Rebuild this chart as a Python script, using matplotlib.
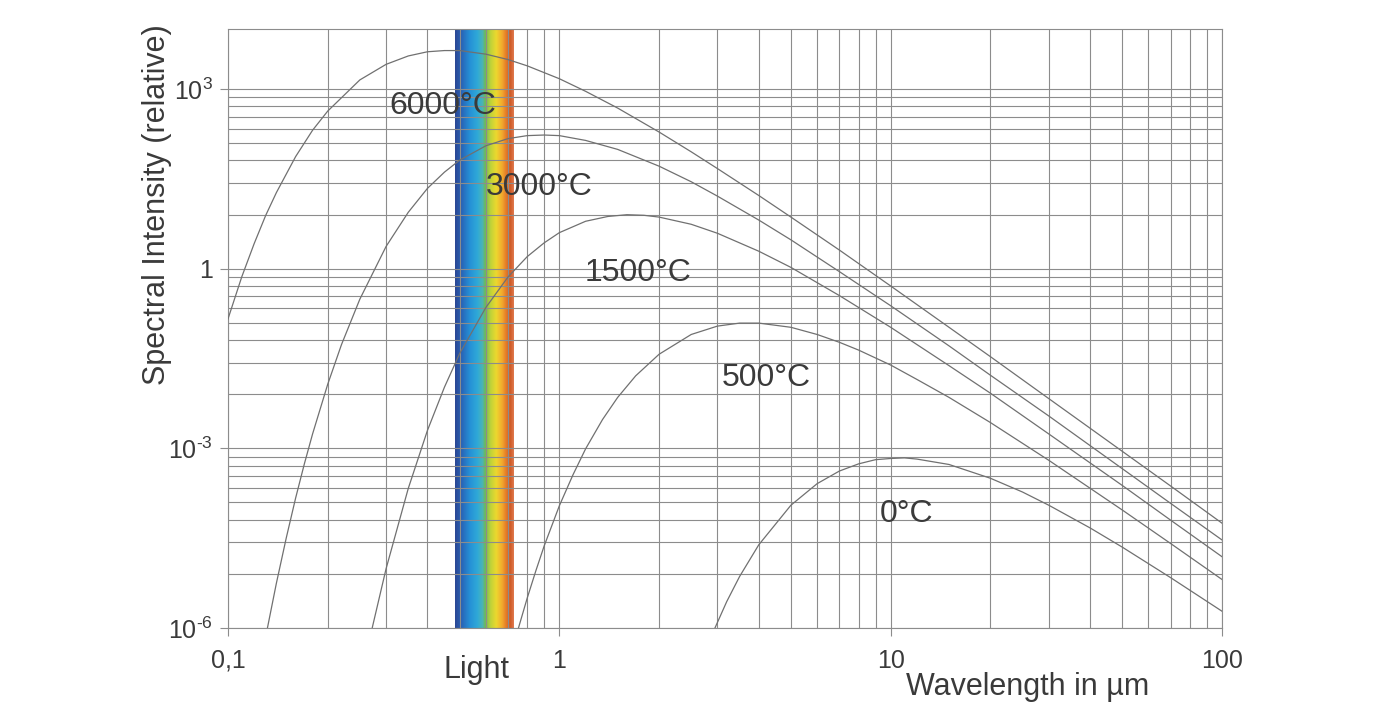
"""Black-body spectral intensity curves on a log-log grid with the visible band."""

import matplotlib

matplotlib.use("Agg")

import matplotlib.pyplot as plt
import numpy as np
from matplotlib.colors import LinearSegmentedColormap
from matplotlib.ticker import FixedFormatter, FixedLocator, LogLocator, NullFormatter

plt.rcParams["font.family"] = ["Liberation Sans", "DejaVu Sans"]
plt.rcParams["mathtext.fontset"] = "custom"
plt.rcParams["mathtext.rm"] = "Liberation Sans"
plt.rcParams["mathtext.it"] = "Liberation Sans"

# wavelength in µm and log10 of relative spectral intensity
wl_6000 = [0.1, 0.11, 0.12, 0.13, 0.14, 0.16, 0.18, 0.2, 0.25, 0.3, 0.35, 0.4,
           0.45, 0.5, 0.6, 0.7, 0.8, 1.0, 1.2, 1.5, 2, 2.5, 3, 4, 5, 7, 10,
           15, 20, 30, 50, 70, 100]
log_6000 = [-0.84, -0.14, 0.42, 0.89, 1.27, 1.87, 2.31, 2.63, 3.15, 3.41, 3.55,
            3.62, 3.64, 3.64, 3.58, 3.49, 3.385, 3.17, 2.96, 2.68, 2.28, 1.95,
            1.67, 1.22, 0.86, 0.31, -0.29, -0.98, -1.47, -2.17, -3.05, -3.63,
            -4.25]

wl_3000 = [0.13, 0.14, 0.15, 0.16, 0.17, 0.18, 0.2, 0.22, 0.25, 0.3, 0.35, 0.4,
           0.45, 0.5, 0.6, 0.7, 0.8, 0.9, 1.0, 1.2, 1.5, 2, 2.5, 3, 4, 5, 7,
           10, 15, 20, 30, 50, 70, 100]
log_3000 = [-6.14, -5.25, -4.49, -3.83, -3.26, -2.76, -1.93, -1.27, -0.51, 0.37,
            0.94, 1.34, 1.61, 1.81, 2.05, 2.17, 2.22, 2.23, 2.22, 2.14, 1.99,
            1.71, 1.45, 1.21, 0.81, 0.48, -0.05, -0.62, -1.29, -1.78, -2.46,
            -3.34, -3.92, -4.53]

wl_1500 = [0.27, 0.3, 0.35, 0.4, 0.45, 0.5, 0.6, 0.7, 0.8, 0.9, 1.0, 1.2, 1.4,
           1.6, 1.8, 2.0, 2.5, 3, 4, 5, 7, 10, 15, 20, 30, 50, 70, 100]
log_1500 = [-6.09, -5.01, -3.67, -2.70, -1.98, -1.42, -0.65, -0.14, 0.20, 0.43,
            0.60, 0.79, 0.87, 0.90, 0.89, 0.86, 0.74, 0.59, 0.29, 0.02, -0.45,
            -0.98, -1.62, -2.08, -2.76, -3.62, -4.20, -4.81]

wl_500 = [0.75, 0.8, 0.85, 0.9, 1.0, 1.1, 1.2, 1.35, 1.5, 1.7, 2, 2.5, 3, 3.5,
          4, 5, 6, 7, 8, 10, 12, 15, 20, 30, 50, 70, 100]
log_500 = [-6.03, -5.50, -5.04, -4.63, -3.96, -3.44, -3.01, -2.52, -2.15, -1.79,
           -1.43, -1.10, -0.96, -0.91, -0.91, -0.98, -1.10, -1.23, -1.36, -1.61,
           -1.85, -2.15, -2.57, -3.20, -4.03, -4.59, -5.19]

wl_0 = [2.9, 3.2, 3.5, 4, 5, 6, 7, 8, 9, 10, 11, 12, 15, 20, 25, 30, 40, 50,
        70, 100]
log_0 = [-6.09, -5.56, -5.14, -4.61, -3.95, -3.59, -3.38, -3.26, -3.19, -3.17,
         -3.16, -3.18, -3.27, -3.50, -3.73, -3.95, -4.33, -4.65, -5.16, -5.72]

curve_labels = ["6000°C", "3000°C", "1500°C", "500°C", "0°C"]
label_x = [0.446, 0.869, 1.73, 4.2, 11.2]
label_log_y = [2.72, 1.37, -0.08, -1.82, -4.10]

light_band = (0.484, 0.728)
x_ticks = [0.1, 1, 10, 100]
x_tick_labels = ["0,1", "1", "10", "100"]
y_ticks = [1e-6, 1e-3, 1, 1e3]
y_tick_labels = ["$10^{\u2010 6}$", "$10^{\u2010 3}$", "1", "$10^{3}$"]

GRID = "#8c8c8c"
CURVE = "#707070"
TEXT = "#3a3a3a"

fig = plt.figure(figsize=(13.99, 7.08), dpi=100)
ax = fig.add_axes([228 / 1399, 80 / 708, 994 / 1399, 599 / 708])
ax.set_xscale("log")
ax.set_yscale("log")
ax.set_xlim(0.1, 100)
ax.set_ylim(1e-6, 1e4)

# visible-light band: colour ramp laid out evenly on screen, in axes fractions
spectrum = LinearSegmentedColormap.from_list(
    "light",
    [(0.0, "#2b4793"), (0.1, "#2960b4"), (0.25, "#2590d6"), (0.38, "#2fa9d8"),
     (0.47, "#4cb4b4"), (0.51, "#6cb858"), (0.6, "#bcd23a"), (0.7, "#ecd82e"),
     (0.8, "#f2aa2e"), (0.87, "#e47a28"), (0.94, "#cf5a26"), (1.0, "#e07a50")],
)
lo, hi = (np.log10(light_band) + 1) / 3
ax.imshow(np.linspace(0, 1, 256)[None, :], cmap=spectrum, aspect="auto",
          extent=[lo, hi, 0, 1], transform=ax.transAxes, zorder=0,
          interpolation="bilinear")

series = [(wl_6000, log_6000), (wl_3000, log_3000), (wl_1500, log_1500),
          (wl_500, log_500), (wl_0, log_0)]
for wl, logs in series:
    ax.plot(wl, 10.0 ** np.asarray(logs), color=CURVE, lw=0.9, zorder=3)

for text, x, ly in zip(curve_labels, label_x, label_log_y):
    ax.text(x, 10.0 ** ly, text, ha="center", va="center", fontsize=23,
            color=TEXT, zorder=4)

ax.set_xlim(0.1, 100)
ax.set_ylim(1e-6, 1e4)

# grid: standard log subdivisions in x, every labelled 1000x step split like a decade in y
ax.xaxis.set_major_locator(FixedLocator(x_ticks))
ax.xaxis.set_major_formatter(FixedFormatter(x_tick_labels))
ax.xaxis.set_minor_locator(LogLocator(base=10, subs=np.arange(2, 10)))
ax.xaxis.set_minor_formatter(NullFormatter())
y_minor = [m * k ** 3 for m in y_ticks[:-1] for k in range(2, 10)]
ax.yaxis.set_major_locator(FixedLocator(y_ticks))
ax.yaxis.set_major_formatter(FixedFormatter(y_tick_labels))
ax.yaxis.set_minor_locator(FixedLocator(y_minor))
ax.yaxis.set_minor_formatter(NullFormatter())
ax.grid(which="both", color=GRID, lw=0.8)

ax.tick_params(which="major", length=6, width=0.8, color=GRID, labelcolor=TEXT,
               labelsize=18)
ax.tick_params(axis="x", which="major", pad=9)
ax.tick_params(axis="y", which="major", pad=5)
ax.tick_params(which="minor", length=0)
for spine in ax.spines.values():
    spine.set_color(GRID)
    spine.set_linewidth(0.8)

fig.text(477 / 1399, 1 - 670 / 708, "Light", ha="center", va="center",
         fontsize=22, color=TEXT)
fig.text(1028 / 1399, 1 - 687 / 708, "Wavelength in µm", ha="center",
         va="center", fontsize=22, color=TEXT)
fig.text(157 / 1399, 1 - 205 / 708, "Spectral Intensity (relative)",
         rotation=90, ha="center", va="center", fontsize=22, color=TEXT)

fig.savefig("out.png", dpi=100)
